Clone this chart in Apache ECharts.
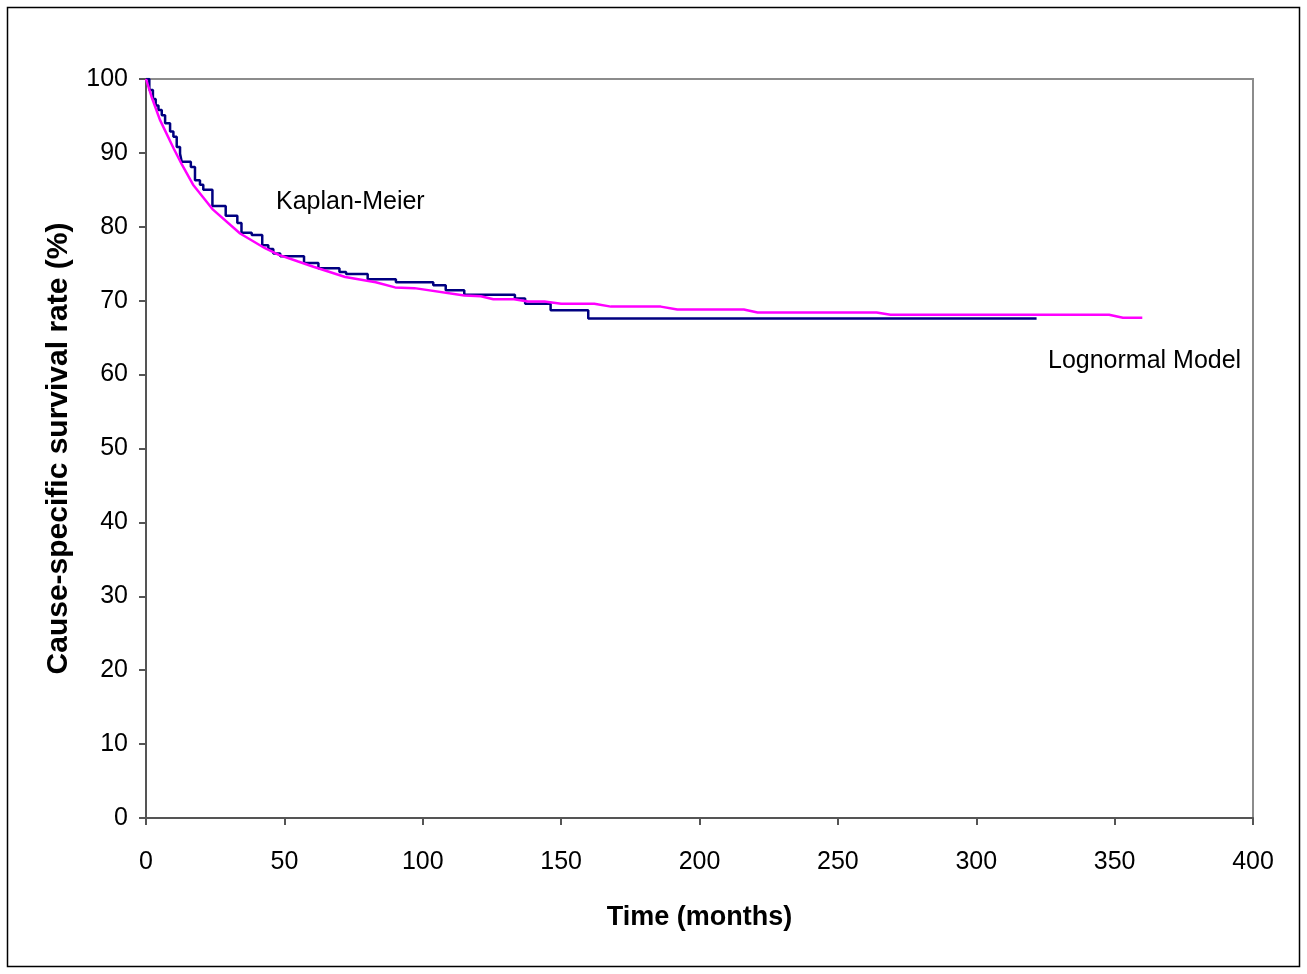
<!DOCTYPE html>
<html>
<head>
<meta charset="utf-8">
<script src="https://cdn.jsdelivr.net/npm/echarts@6/dist/echarts.min.js"></script>
<style>
html,body{margin:0;padding:0;background:#fff;}
#chart{width:1307px;height:974px;}
</style>
</head>
<body>
<div id="chart"></div>
<script>
// Kaplan-Meier step levels: [time (months), survival %] at the start of each level
const kmTimes = [0,1.2,2.5,3.5,4.5,5.7,6.9,8.7,9.9,11.1,12.3,12.9,16.2,17.7,19.5,20.7,24.0,28.8,33.0,34.5,38.2,42.0,44.2,46.0,48.5,57.1,62.3,69.9,72.3,80.1,90.3,103.8,108.3,115.0,133.3,137.0,146.2,159.8,321.8];
const kmValues = [100,98.5,97.3,96.4,95.8,95.1,94.0,92.9,92.2,90.8,89.9,88.8,88.1,86.3,85.7,85.0,82.8,81.5,80.5,79.2,78.9,77.5,77.0,76.4,76.0,75.1,74.4,73.9,73.6,72.9,72.5,72.1,71.4,70.8,70.3,69.6,68.7,67.6,67.6];

// Lognormal model curve
const lnTimes = [0,2,5,10,13,17,24,34,43,48,55,60.5,72,83,90,97,115,121,125.5,133,138,144,150,162,168,186,192,216,221,264,269,348,353,360];
const lnValues = [100,97.6,94.5,90.6,88.4,85.7,82.4,79.1,77.1,76.2,75.3,74.6,73.2,72.5,71.8,71.7,70.7,70.6,70.2,70.2,69.9,69.9,69.6,69.6,69.2,69.2,68.8,68.8,68.4,68.4,68.1,68.1,67.7,67.7];

const xTicks = [0,50,100,150,200,250,300,350,400];
const yTicks = [0,10,20,30,40,50,60,70,80,90,100];

const seriesLabels = ['Kaplan-Meier', 'Lognormal Model'];
const xTitle = 'Time (months)';
const yTitle = 'Cause-specific survival rate (%)';

const kmData = kmTimes.map((t, i) => [t, kmValues[i]]);
const lnData = lnTimes.map((t, i) => [t, lnValues[i]]);

const chart = echarts.init(document.getElementById('chart'), null, {renderer: 'canvas'});
const FONT = '"Liberation Sans", Arial, sans-serif';

chart.setOption({
  backgroundColor: '#ffffff',
  animation: false,
  grid: {
    left: 146, right: 54, top: 79, bottom: 156,
    show: true, borderColor: '#8c8c8c', borderWidth: 2, backgroundColor: 'transparent'
  },
  xAxis: {
    type: 'value', min: xTicks[0], max: xTicks[xTicks.length - 1], interval: 50,
    name: xTitle, nameLocation: 'middle', nameGap: 86,
    nameTextStyle: {fontFamily: FONT, fontSize: 27, fontWeight: 'bold', color: '#000'},
    axisLine: {show: true, lineStyle: {color: '#555', width: 2}},
    axisTick: {show: true, inside: false, length: 7, lineStyle: {color: '#555', width: 2}},
    axisLabel: {fontFamily: FONT, fontSize: 25, color: '#000', margin: 32},
    splitLine: {show: false}
  },
  yAxis: {
    type: 'value', min: yTicks[0], max: yTicks[yTicks.length - 1], interval: 10,
    name: yTitle, nameLocation: 'middle', nameGap: 72, nameRotate: 90,
    nameTextStyle: {fontFamily: FONT, fontSize: 30, fontWeight: 'bold', color: '#000'},
    axisLine: {show: true, lineStyle: {color: '#555', width: 2}},
    axisTick: {show: true, inside: false, length: 7, lineStyle: {color: '#555', width: 2}},
    axisLabel: {fontFamily: FONT, fontSize: 25, color: '#000', margin: 18},
    splitLine: {show: false}
  },
  series: [
    {
      name: seriesLabels[0], type: 'line', step: 'end', data: kmData,
      showSymbol: false, symbol: 'none', z: 2,
      lineStyle: {color: '#000080', width: 2.5}
    },
    {
      name: seriesLabels[1], type: 'line', data: lnData,
      showSymbol: false, symbol: 'none', smooth: false, z: 3,
      lineStyle: {color: '#ff00ff', width: 2.5}
    }
  ],
  graphic: [
    {type: 'rect', shape: {x: 7.5, y: 7.5, width: 1292, height: 959}, style: {fill: 'none', stroke: '#000', lineWidth: 1.5}, silent: true, z: -1},
    {type: 'text', left: 276, top: 190, style: {text: seriesLabels[0], font: '25px ' + FONT, fill: '#000'}},
    {type: 'text', left: 1048, top: 349, style: {text: seriesLabels[1], font: '25px ' + FONT, fill: '#000'}}
  ]
});
</script>
</body>
</html>
